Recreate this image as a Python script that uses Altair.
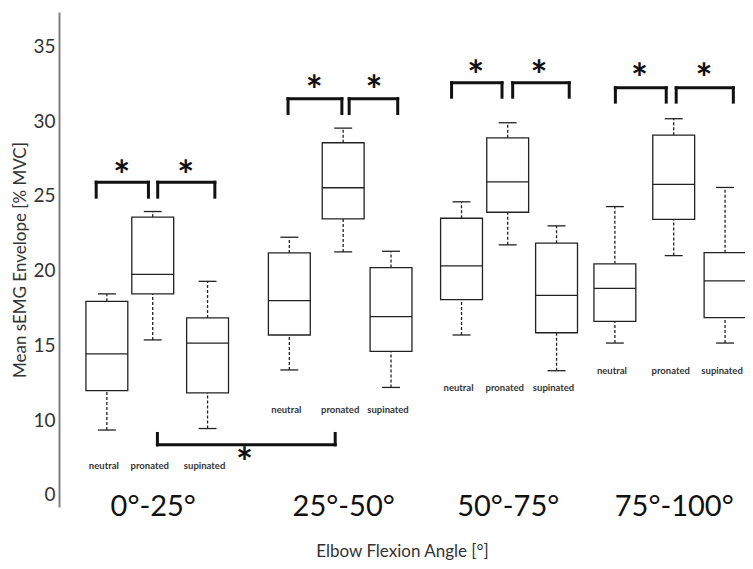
import altair as alt
import pandas as pd

# ---- data ----
groups = ["0°-25°", "25°-50°", "50°-75°", "75°-100°"]
conditions = ["neutral", "pronated", "supinated"]
# x position of each box (plot units along the x scale)
box_pos = [[48, 94, 149], [231, 285, 333], [403.7, 450, 499], [557.5, 616.5, 668]]
whisker_lo = [[9.33, 15.36, 9.43], [13.35, 21.25, 12.18], [15.69, 21.72, 13.3], [15.15, 21.0, 15.15]]
q1 = [[11.96, 18.44, 11.81], [15.69, 23.46, 14.59], [18.05, 23.9, 15.84], [16.6, 23.43, 16.85]]
median = [[14.42, 19.75, 15.15], [17.99, 25.54, 16.92], [20.31, 25.94, 18.34], [18.81, 25.76, 19.31]]
q3 = [[17.94, 23.57, 16.83], [21.18, 28.55, 20.2], [23.5, 28.88, 21.83], [20.45, 29.06, 21.2]]
whisker_hi = [[18.44, 23.95, 19.28], [22.23, 29.53, 21.29], [24.6, 29.89, 22.99], [24.28, 30.16, 25.56]]
label_y = [6.94, 10.69, 12.14, 13.3]  # level of the small condition labels per group

# significance brackets: x start, x end, bar level, end level
br_x1 = [37.3, 99, 229.7, 291, 393.7, 455, 558, 619, 98.7]
br_x2 = [89.7, 156.3, 283.7, 339.7, 444.3, 511.7, 609, 676.3, 277]
br_bar = [25.91, 25.91, 31.5, 31.5, 32.57, 32.57, 32.23, 32.23, 8.34]
br_end = [24.91, 24.91, 30.51, 30.51, 31.6, 31.6, 31.27, 31.27, 9.1]
star_x = [63, 127, 256, 316, 418, 481.3, 582.3, 647, 186]
star_y = [26.81, 26.81, 32.45, 32.45, 33.51, 33.51, 33.28, 33.28, 7.61]

y_ticks = [5, 10, 15, 20, 25, 30, 35]

HALF = 21
CAP = 9
FONT = "Lato"
INK = "#222222"

rows = []
for g in range(4):
    for c in range(3):
        p = box_pos[g][c]
        rows.append(dict(group=groups[g], cond=conditions[c], x=p, xl=p - HALF, xr=p + HALF,
                         cl=p - CAP, cr=p + CAP, lo=whisker_lo[g][c], q1=q1[g][c],
                         med=median[g][c], q3=q3[g][c], hi=whisker_hi[g][c], ly=label_y[g]))
df = pd.DataFrame(rows)

segs = []
for i in range(len(br_x1)):
    segs.append(dict(x=br_x1[i], x2=br_x2[i], y=br_bar[i], y2=br_bar[i]))
    segs.append(dict(x=br_x1[i], x2=br_x1[i], y=br_bar[i], y2=br_end[i]))
    segs.append(dict(x=br_x2[i], x2=br_x2[i], y=br_bar[i], y2=br_end[i]))
seg_df = pd.DataFrame(segs)
star_df = pd.DataFrame(dict(x=star_x, y=star_y))

xs = alt.Scale(domain=[0, 688], nice=False, zero=False)
ys = alt.Scale(domain=[4.18, 37.3], nice=False, zero=False)

group_centers = [box_pos[g][1] for g in range(4)]
label_expr = " : ".join(
    [f"datum.value == {v} ? '{groups[i]}'" for i, v in enumerate(group_centers)] + ["''"]
)

x_axis = alt.Axis(
    values=group_centers, labelExpr=label_expr, domain=False, ticks=False, grid=False,
    labelFontSize=29, labelFont=FONT, labelColor="#111111", labelPadding=-15,
    title="Elbow Flexion Angle [°]", titleFont=FONT, titleFontSize=17,
    titleFontWeight="normal", titleColor="#333333", titlePadding=22)
y_axis = alt.Axis(
    values=y_ticks, labelExpr="datum.value == 5 ? '0' : datum.label",
    domain=True, domainColor="#808080", domainWidth=2, ticks=False, grid=False,
    labelFontSize=19, labelFont=FONT, labelColor="#333333", labelPadding=4,
    title="Mean sEMG Envelope [% MVC]", titleFont=FONT, titleFontSize=17,
    titleFontWeight="normal", titleColor="#333333", titlePadding=3)

def X(f):
    return alt.X(f, scale=xs, axis=x_axis)

def Y(f):
    return alt.Y(f, scale=ys, axis=y_axis)

base = alt.Chart(df)
whisk_lo = base.mark_rule(color=INK, strokeWidth=1.3, strokeDash=[3, 2]).encode(
    x=X("x:Q"), y=Y("lo:Q"), y2="q1:Q")
whisk_hi = base.mark_rule(color=INK, strokeWidth=1.3, strokeDash=[3, 2]).encode(
    x=X("x:Q"), y=Y("q3:Q"), y2="hi:Q")
cap_lo = base.mark_rule(color=INK, strokeWidth=1.3).encode(
    x=X("cl:Q"), x2="cr:Q", y=Y("lo:Q"))
cap_hi = base.mark_rule(color=INK, strokeWidth=1.3).encode(
    x=X("cl:Q"), x2="cr:Q", y=Y("hi:Q"))
box = base.mark_rect(fill="white", stroke=INK, strokeWidth=1.3).encode(
    x=X("xl:Q"), x2="xr:Q", y=Y("q1:Q"), y2="q3:Q")
med = base.mark_rule(color=INK, strokeWidth=1.3).encode(
    x=X("xl:Q"), x2="xr:Q", y=Y("med:Q"))
cond_lbl = base.mark_text(font=FONT, fontSize=9.5, fontWeight="bold", color="#333333",
                          baseline="middle", dx=-3).encode(
    x=X("x:Q"), y=Y("ly:Q"), text="cond:N")

brackets = alt.Chart(seg_df).mark_rule(color="#111111", strokeWidth=3, strokeCap="square").encode(
    x=X("x:Q"), x2="x2:Q", y=Y("y:Q"), y2="y2:Q")
stars = alt.Chart(star_df).mark_text(text="*", font=FONT, fontSize=40, fontWeight="bold",
                                     color="#111111", baseline="middle", dy=9).encode(
    x=X("x:Q"), y=Y("y:Q"))

chart = alt.layer(whisk_lo, whisk_hi, cap_lo, cap_hi, box, med, cond_lbl, brackets, stars).properties(
    width=686, height=495, autosize="none", background="white",
    padding={"left": 51, "top": 4, "right": 0, "bottom": 54},
).configure_view(stroke="transparent", strokeWidth=0)

chart.save("out.html", embed_options={"renderer": "svg", "actions": False})
